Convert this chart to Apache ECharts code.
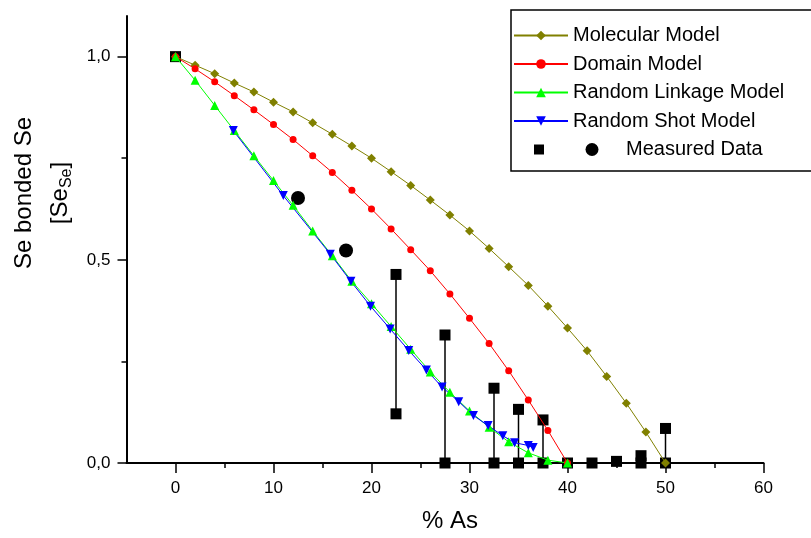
<!DOCTYPE html>
<html>
<head>
<meta charset="utf-8">
<script src="https://cdn.jsdelivr.net/npm/echarts@6/dist/echarts.min.js"></script>
<style>html,body{margin:0;padding:0;background:#fff;}#c{width:811px;height:538px;}</style>
</head>
<body>
<div id="c"></div>
<script>
// ---- data ----
const molecularX = [0,2,4,6,8,10,12,14,16,18,20,22,24,26,28,30,32,34,36,38,40,42,44,46,48,50];
const molecularY = [1,0.979,0.958,0.935,0.913,0.888,0.864,0.837,0.809,0.780,0.750,0.717,0.683,0.647,0.610,0.571,0.528,0.483,0.437,0.386,0.332,0.276,0.213,0.147,0.076,0];
const domainX = [0,2,4,6,8,10,12,14,16,18,20,22,24,26,28,30,32,34,36,38,40];
const domainY = [1,0.970,0.938,0.904,0.869,0.833,0.796,0.756,0.715,0.671,0.625,0.576,0.525,0.473,0.416,0.356,0.294,0.227,0.155,0.080,0];
const linkageX = [0,2,4,6,8,10,12,14,16,18,20,22,24,26,28,30,32,34,36,38,40];
const linkageY = [1,0.942,0.880,0.818,0.756,0.695,0.634,0.571,0.510,0.447,0.392,0.336,0.280,0.224,0.174,0.128,0.088,0.052,0.025,0.007,0];
const shotX = [5.9,11,15.8,17.9,19.9,21.9,23.8,25.6,27.2,28.9,30.4,31.9,33.4,34.6,36.0,36.5];
const shotY = [0.818,0.658,0.514,0.447,0.386,0.330,0.277,0.229,0.187,0.151,0.117,0.092,0.067,0.050,0.043,0.038];
const measSqX = [0,22.5,22.5,27.5,27.5,32.5,32.5,35,35,37.5,37.5,40,42.5,45,47.5,47.5,50,50];
const measSqY = [1,0.464,0.121,0.315,0,0.184,0,0.132,0,0.106,0,0,0,0.004,0,0.018,0.085,0];
const rangeX = [22.5,27.5,32.5,35,37.5,47.5,50];
const rangeLow = [0.121,0,0,0,0,0,0];
const rangeHigh = [0.464,0.315,0.184,0.132,0.106,0.018,0.085];
const measCircX = [12.5,17.4];
const measCircY = [0.652,0.523];
const xMajorTicks = [0,10,20,30,40,50,60];
const xMinorTicks = [5,15,25,35,45,55];
const yMajorTicks = [0,0.5,1.0];
const yMinorTicks = [0.25,0.75];
const seriesNames = ['Molecular Model','Domain Model','Random Linkage Model','Random Shot Model'];

const FONT = "'Liberation Sans', Arial, sans-serif";
const zip = (xs, ys) => xs.map((x, i) => [x, ys[i]]);

const chart = echarts.init(document.getElementById('c'), null, {renderer: 'canvas'});
const axisCommon = {
  type: 'value', splitLine: {show: false},
  axisLine: {show: true, onZero: false, lineStyle: {color: '#000', width: 2}},
};
const option = {
  animation: false,
  backgroundColor: '#fff',
  textStyle: {fontFamily: FONT},
  grid: {left: 126.5, right: 47.5, top: 16, bottom: 75, containLabel: false, outerBoundsMode: 'none'},
  xAxis: [
    Object.assign({}, axisCommon, {
      min: -5, max: 60, position: 'bottom',
      axisTick: {show: true, inside: false, length: 10, customValues: xMajorTicks, lineStyle: {color: '#000', width: 1.5}},
      axisLabel: {show: true, customValues: xMajorTicks, margin: 17, fontSize: 17, color: '#000', fontFamily: FONT},
      name: '% As', nameLocation: 'middle', nameGap: 46,
      nameTextStyle: {fontSize: 24, color: '#000', fontFamily: FONT, padding: [0, 0, 0, 10]}
    }),
    Object.assign({}, axisCommon, {
      min: -5, max: 60, position: 'bottom',
      axisLine: {show: false, onZero: false},
      axisTick: {show: true, inside: false, length: 5, customValues: xMinorTicks, lineStyle: {color: '#000', width: 1.5}},
      axisLabel: {show: false}
    })
  ],
  yAxis: [
    Object.assign({}, axisCommon, {
      min: 0, max: 1.1, position: 'left',
      axisTick: {show: true, inside: false, length: 9, customValues: yMajorTicks, lineStyle: {color: '#000', width: 1.5}},
      axisLabel: {show: true, customValues: yMajorTicks, margin: 16, fontSize: 17, color: '#000', fontFamily: FONT,
        formatter: v => v.toFixed(1).replace('.', ',')}
    }),
    Object.assign({}, axisCommon, {
      min: 0, max: 1.1, position: 'left',
      axisLine: {show: false, onZero: false},
      axisTick: {show: true, inside: false, length: 5, customValues: yMinorTicks, lineStyle: {color: '#000', width: 1.5}},
      axisLabel: {show: false}
    })
  ],
  legend: {
    show: true, orient: 'vertical', left: 513, top: 25.5, padding: 0,
    itemWidth: 54, itemHeight: 12, itemGap: 8.5, selectedMode: false,
    data: seriesNames,
    textStyle: {fontSize: 20, lineHeight: 20, color: '#000', fontFamily: FONT}
  },
  graphic: [
    {type: 'rect', shape: {x: 511, y: 10, width: 320, height: 161}, style: {fill: 'none', stroke: '#000', lineWidth: 1.5}, z: 100},
    {type: 'rect', shape: {x: 534, y: 144.5, width: 10, height: 10}, style: {fill: '#000'}, z: 100},
    {type: 'circle', shape: {cx: 592, cy: 149.5, r: 6.5}, style: {fill: '#000'}, z: 100},
    {type: 'text', x: 626, y: 149.5, style: {text: 'Measured Data', fontSize: 20, fontFamily: FONT, fill: '#000', align: 'left', verticalAlign: 'middle'}, z: 100},
    {type: 'text', x: 24, y: 193, rotation: Math.PI / 2,
      style: {text: 'Se bonded Se', fontSize: 24, fontFamily: FONT, fill: '#000', align: 'center', verticalAlign: 'middle'}, z: 100},
    {type: 'text', x: 60, y: 193, rotation: Math.PI / 2,
      style: {text: '{n|[Se}{s|Se}{n|]}', align: 'center', verticalAlign: 'middle', fill: '#000',
        rich: {
          n: {fontSize: 24, fontFamily: FONT, fill: '#000', lineHeight: 34, verticalAlign: 'middle'},
          s: {fontSize: 16, fontFamily: FONT, fill: '#000', lineHeight: 34, padding: [14, 0, 0, 0], verticalAlign: 'middle'}
        }}, z: 100}
  ],
  series: [
    {
      type: 'custom', name: 'ranges', xAxisIndex: 0, yAxisIndex: 0, z: 1, silent: true,
      data: rangeX.map((x, i) => [x, rangeLow[i], rangeHigh[i]]),
      renderItem: function (params, api) {
        const p0 = api.coord([api.value(0), api.value(1)]);
        const p1 = api.coord([api.value(0), api.value(2)]);
        return {type: 'line', shape: {x1: p0[0], y1: p0[1], x2: p1[0], y2: p1[1]}, style: {stroke: '#000', lineWidth: 1.5}};
      }
    },
    {type: 'scatter', name: 'measured squares', z: 2, symbol: 'rect', symbolSize: 11,
      itemStyle: {color: '#000', opacity: 1}, data: zip(measSqX, measSqY)},
    {type: 'scatter', name: 'measured circles', z: 2, symbol: 'circle', symbolSize: 14,
      itemStyle: {color: '#000', opacity: 1}, data: zip(measCircX, measCircY)},
    {type: 'line', name: seriesNames[0], z: 3, symbol: 'diamond', symbolSize: 9, showAllSymbol: true,
      itemStyle: {color: '#808000'}, lineStyle: {color: '#808000', width: 1}, data: zip(molecularX, molecularY)},
    {type: 'line', name: seriesNames[1], z: 3, symbol: 'circle', symbolSize: 7, showAllSymbol: true,
      itemStyle: {color: '#ff0000'}, lineStyle: {color: '#ff0000', width: 1}, data: zip(domainX, domainY)},
    {type: 'line', name: seriesNames[2], z: 3, symbol: 'triangle', symbolSize: 9, showAllSymbol: true,
      itemStyle: {color: '#00ff00'}, lineStyle: {color: '#00ff00', width: 1}, data: zip(linkageX, linkageY)},
    {type: 'line', name: seriesNames[3], z: 3, symbol: 'triangle', symbolRotate: 180, symbolSize: 9, showAllSymbol: true,
      itemStyle: {color: '#0000ff'}, lineStyle: {color: '#0000ff', width: 1}, data: zip(shotX, shotY)}
  ]
};
chart.setOption(option);
</script>
</body>
</html>
